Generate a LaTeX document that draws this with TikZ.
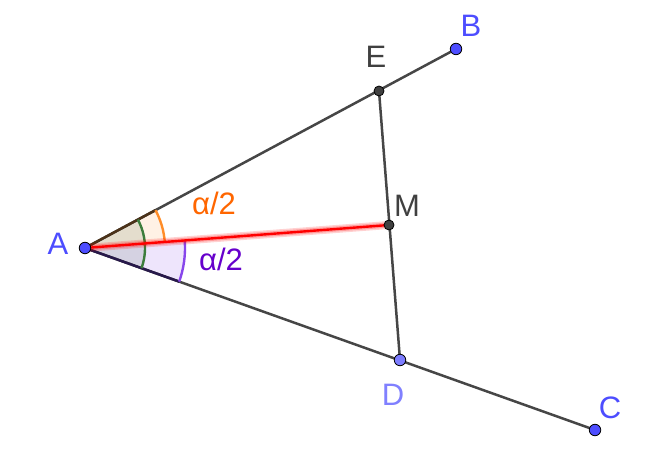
\documentclass[tikz,border=0pt]{standalone}
\usepackage{fontspec}
\setmainfont{Liberation Sans}
\definecolor{ptblue}{RGB}{77,77,255}
\definecolor{ptlight}{RGB}{125,125,255}
\definecolor{lbllight}{RGB}{128,128,255}
\definecolor{dgray}{RGB}{64,64,64}
\definecolor{lingray}{RGB}{70,70,70}
\definecolor{orng}{RGB}{255,102,0}
\definecolor{orarc}{RGB}{255,140,40}
\definecolor{purp}{RGB}{102,0,204}
\definecolor{purarc}{RGB}{135,70,235}
\definecolor{grn}{RGB}{60,125,60}
\definecolor{upside}{RGB}{75,50,25}
\definecolor{loside}{RGB}{40,25,75}
\tikzset{
  seg/.style={lingray, line width=2.5pt},
  ptnode/.style={circle, draw=black, line width=0.8pt, minimum size=11.5pt, inner sep=0pt},
  lbl/.style={anchor=base, font=\fontsize{31}{36}\selectfont, inner sep=0pt},
  arcline/.style={line width=2.4pt}
}
\begin{document}
\begin{tikzpicture}[x=1pt,y=1pt]
\useasboundingbox (0,0) rectangle (655,454);
\coordinate (A) at (85,206);
\coordinate (B) at (456,405);
\coordinate (C) at (595,24);
\coordinate (E) at (379,363);
\coordinate (M) at (389,229);
\coordinate (D) at (400,94);
% sector fills
\fill[orarc, fill opacity=0.12] (A) -- ++(4.33:80pt) arc[start angle=4.33, end angle=28.21, radius=80pt] -- cycle;
\fill[purarc, fill opacity=0.14] (A) -- ++(-19.64:100pt) arc[start angle=-19.64, end angle=4.33, radius=100pt] -- cycle;
\fill[grn!60!black, fill opacity=0.12] (A) -- ++(-19.64:60pt) arc[start angle=-19.64, end angle=28.21, radius=60pt] -- cycle;
% segments
\draw[seg] (A) -- (B);
\draw[seg] (A) -- (C);
\draw[seg] (E) -- (D);
\draw[upside, line width=2.5pt] (A) -- ++(28.21:80pt);
\draw[loside, line width=2.5pt] (A) -- ++(-19.64:100pt);
% arcs
\draw[arcline, orarc] (A) ++(4.33:80pt) arc[start angle=4.33, end angle=28.21, radius=80pt];
\draw[arcline, purarc] (A) ++(-19.64:100pt) arc[start angle=-19.64, end angle=4.33, radius=100pt];
\draw[arcline, grn] (A) ++(-19.64:60pt) arc[start angle=-19.64, end angle=28.21, radius=60pt];
% bisector with glow
\draw[red, line width=8pt, opacity=0.18] (A) -- (M);
\draw[red, line width=5pt, opacity=0.25] (A) -- (M);
\draw[red, line width=2.4pt] (A) -- (M);
% points
\node[ptnode, fill=ptblue] (pA) at (A) {};
\node[ptnode, fill=ptblue] (pB) at (B) {};
\node[ptnode, fill=ptblue] (pC) at (C) {};
\node[ptnode, fill=ptlight] (pD) at (D) {};
\node[ptnode, fill=dgray, minimum size=10pt] (pE) at (E) {};
\node[ptnode, fill=dgray, minimum size=10pt] (pM) at (M) {};
% labels
\node[lbl, text=ptblue] (lA) at (58,199) {A};
\node[lbl, text=ptblue] (lB) at (471,417) {B};
\node[lbl, text=ptblue] (lC) at (610,35) {C};
\node[lbl, text=lbllight] (lD) at (393,48) {D};
\node[lbl, text=dgray] (lE) at (376,386) {E};
\node[lbl, text=dgray] (lM) at (407,237) {M};
\node[lbl, text=orng] (la1) at (214,239) {α/2};
\node[lbl, text=purp] (la2) at (221,183) {α/2};
\end{tikzpicture}
\end{document}
